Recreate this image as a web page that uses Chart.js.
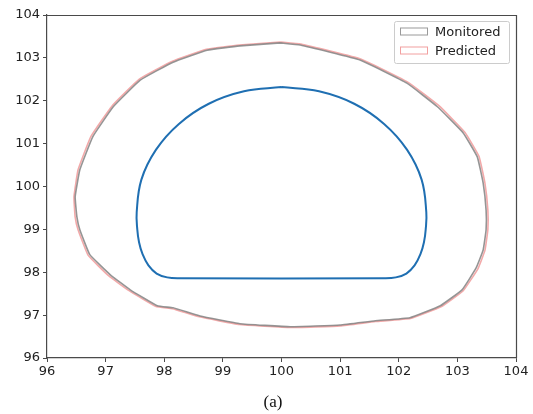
<!DOCTYPE html>
<html>
<head>
<meta charset="utf-8">
<script src="https://cdn.jsdelivr.net/npm/chart.js@4/dist/chart.umd.min.js"></script>
<style>
  html, body { margin: 0; padding: 0; background: #fff; }
  #wrap { width: 533px; height: 414px; position: relative; }
</style>
</head>
<body>
<div id="wrap"><canvas id="chart"></canvas></div>
<script>
// outer contour, monitored
const monitoredX = [99.98, 100.32, 101.34, 102.14, 102.66, 103.10, 103.34, 103.44, 103.49, 103.49, 103.44, 103.32, 103.08, 102.71, 102.19, 101.60, 101.00, 100.15, 99.29, 98.61, 98.15, 97.88, 97.42, 97.08, 96.73, 96.56, 96.51, 96.48, 96.56, 96.78, 97.13, 97.59, 98.15, 98.73, 99.29, 99.98];
const monitoredY = [103.35, 103.30, 102.95, 102.41, 101.86, 101.25, 100.69, 100.08, 99.45, 98.99, 98.52, 98.10, 97.59, 97.22, 96.94, 96.87, 96.77, 96.73, 96.80, 96.98, 97.17, 97.22, 97.59, 97.94, 98.41, 98.99, 99.29, 99.76, 100.39, 101.16, 101.86, 102.48, 102.90, 103.18, 103.28, 103.35];

// outer contour, predicted (sits just outside the monitored one)
const predictedX = [99.98, 100.33, 101.36, 102.16, 102.69, 103.13, 103.37, 103.47, 103.52, 103.52, 103.47, 103.35, 103.10, 102.73, 102.20, 101.60, 101.00, 100.15, 99.28, 98.60, 98.14, 97.86, 97.40, 97.05, 96.70, 96.53, 96.48, 96.46, 96.53, 96.75, 97.11, 97.57, 98.14, 98.72, 99.28, 99.98];
const predictedY = [103.37, 103.32, 102.97, 102.43, 101.88, 101.26, 100.70, 100.08, 99.45, 98.99, 98.51, 98.08, 97.57, 97.20, 96.92, 96.85, 96.75, 96.71, 96.78, 96.96, 97.15, 97.20, 97.57, 97.92, 98.40, 98.99, 99.29, 99.76, 100.39, 101.17, 101.88, 102.50, 102.92, 103.20, 103.30, 103.37];

// inner section (blue): arched crown, side walls, rounded corners, flat invert
const innerX = [100.00, 100.64, 101.24, 101.75, 102.14, 102.39, 102.47, 102.46, 102.43, 102.37, 102.27, 102.13, 101.95, 101.75, 98.25, 98.05, 97.87, 97.73, 97.63, 97.57, 97.54, 97.53, 97.61, 97.86, 98.25, 98.76, 99.36, 100.00];
const innerY = [102.32, 102.22, 101.93, 101.46, 100.86, 100.16, 99.40, 99.00, 98.70, 98.42, 98.16, 97.97, 97.88, 97.86, 97.86, 97.88, 97.97, 98.16, 98.42, 98.70, 99.00, 99.40, 100.16, 100.86, 101.46, 101.93, 102.22, 102.32];

const xTicks = [96, 97, 98, 99, 100, 101, 102, 103, 104];
const yTicks = [96, 97, 98, 99, 100, 101, 102, 103, 104];
const legendLabels = ["Monitored", "Predicted"];
const caption = "(a)";

function pairs(xs, ys) {
    return xs.map(function(x, i) { return { x: x, y: ys[i] }; });
}

const axisColor = "#4a4a4a";
const tickFont = { family: "DejaVu Sans", size: 13 };

// matplotlib-like frame, boxed legend and caption
const extrasPlugin = {
    id: "extras",
    afterDraw(chart) {
        const ctx = chart.ctx;
        const a = chart.chartArea;
        ctx.save();
        ctx.strokeStyle = axisColor;
        ctx.lineWidth = 1.2;
        ctx.beginPath();
        ctx.moveTo(a.left, a.top + 0.5);
        ctx.lineTo(a.right + 0.5, a.top + 0.5);
        ctx.lineTo(a.right + 0.5, a.bottom);
        ctx.stroke();

        // legend
        const bx = 394, by = 21, bw = 115, bh = 42;
        ctx.fillStyle = "rgba(255,255,255,0.85)";
        ctx.strokeStyle = "#cccccc";
        ctx.lineWidth = 1;
        ctx.beginPath();
        ctx.roundRect(bx + 0.5, by + 0.5, bw, bh, 2);
        ctx.fill();
        ctx.stroke();

        const ds = chart.data.datasets;
        ctx.font = "13px 'DejaVu Sans'";
        ctx.textBaseline = "middle";
        legendLabels.forEach(function(lbl, i) {
            const cy = 31.5 + i * 19;
            ctx.strokeStyle = ds[i].legendColor;
            ctx.lineWidth = 1;
            ctx.strokeRect(400.5, cy - 3.5, 27, 7);
            ctx.fillStyle = "#222";
            ctx.fillText(lbl, 435, cy + 1);
        });

        // caption under the chart
        ctx.font = "17px 'Liberation Serif'";
        ctx.fillStyle = "#111";
        ctx.textAlign = "center";
        ctx.textBaseline = "middle";
        ctx.fillText(caption, 273, 403);
        ctx.restore();
    }
};

const chart = new Chart(document.getElementById("chart"), {
    type: "scatter",
    data: {
        datasets: [
            {
                label: legendLabels[0],
                data: pairs(monitoredX, monitoredY),
                showLine: true,
                borderColor: "rgba(130,130,130,0.85)",
                legendColor: "#9a9a9a",
                borderWidth: 1.6,
                pointRadius: 0,
                tension: 0.1
            },
            {
                label: legendLabels[1],
                data: pairs(predictedX, predictedY),
                showLine: true,
                borderColor: "rgba(238,140,140,0.75)",
                legendColor: "#f2a0a0",
                borderWidth: 1.6,
                pointRadius: 0,
                tension: 0.1
            },
            {
                label: "Section",
                data: pairs(innerX, innerY),
                showLine: true,
                borderColor: "#1f6fb2",
                borderWidth: 2,
                pointRadius: 0,
                tension: 0.4
            }
        ]
    },
    options: {
        responsive: true,
        maintainAspectRatio: false,
        animation: false,
        layout: { padding: { left: 0, right: 17, top: 15, bottom: 26 } },
        plugins: {
            legend: { display: false },
            tooltip: { enabled: false }
        },
        scales: {
            x: {
                type: "linear",
                min: 96,
                max: 104,
                afterBuildTicks: function(scale) {
                    scale.ticks = xTicks.map(function(v) { return { value: v }; });
                },
                afterFit: function(scale) { scale.height = 30; },
                grid: { drawOnChartArea: false, drawTicks: true, tickLength: 4, color: axisColor },
                border: { display: true, color: axisColor, width: 1.2 },
                ticks: { font: tickFont, color: "#222", padding: 2, maxRotation: 0 }
            },
            y: {
                type: "linear",
                min: 96,
                max: 104,
                afterBuildTicks: function(scale) {
                    scale.ticks = yTicks.map(function(v) { return { value: v }; });
                },
                afterFit: function(scale) { scale.width = 47; },
                grid: { drawOnChartArea: false, drawTicks: true, tickLength: 4, color: axisColor },
                border: { display: true, color: axisColor, width: 1.2 },
                ticks: { font: tickFont, color: "#222", padding: 3 }
            }
        }
    },
    plugins: [extrasPlugin]
});
</script>
</body>
</html>
